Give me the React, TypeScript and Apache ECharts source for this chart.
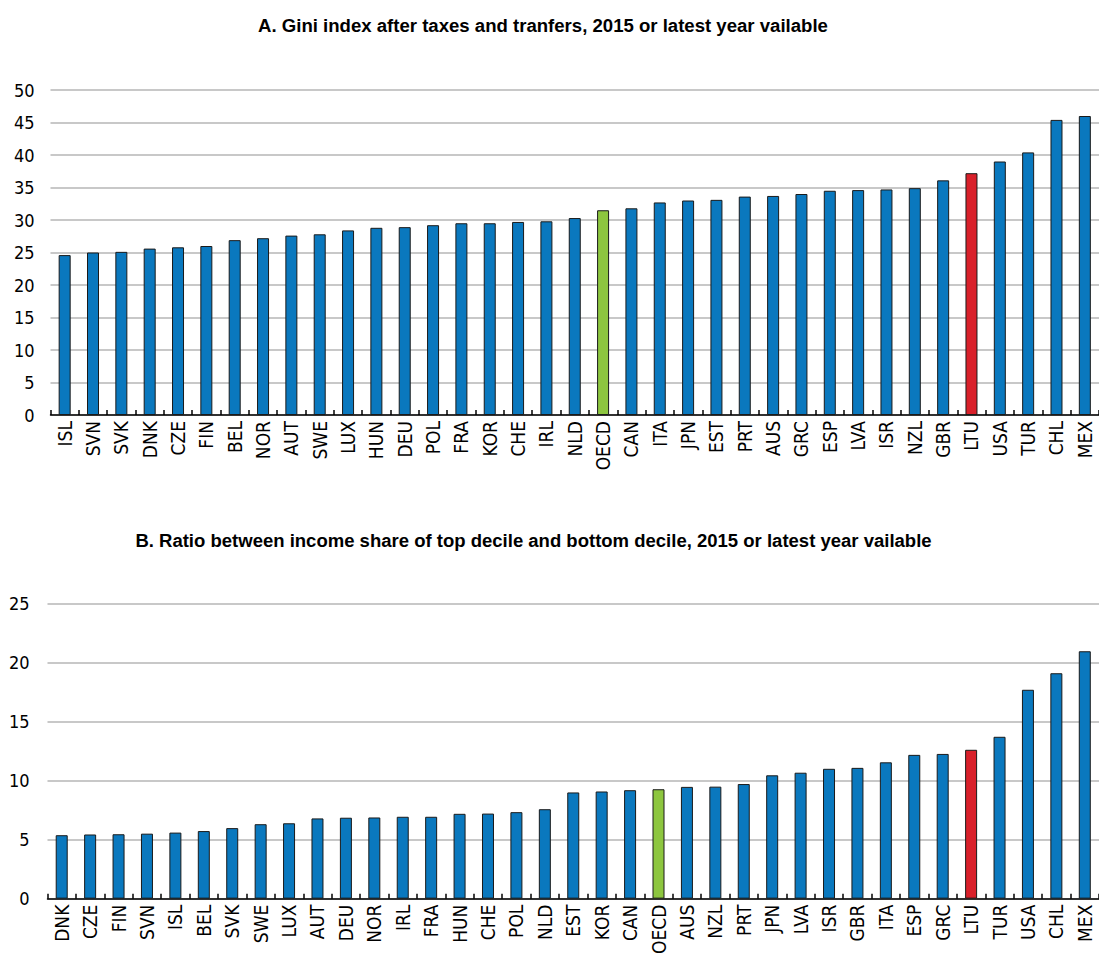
import React, { useEffect, useRef } from "react";
import * as echarts from "echarts";

const catsA = ["ISL","SVN","SVK","DNK","CZE","FIN","BEL","NOR","AUT","SWE","LUX","HUN","DEU","POL","FRA","KOR","CHE","IRL","NLD","OECD","CAN","ITA","JPN","EST","PRT","AUS","GRC","ESP","LVA","ISR","NZL","GBR","LTU","USA","TUR","CHL","MEX"];
const valsA = [24.6,25.0,25.1,25.6,25.8,26.0,26.9,27.2,27.6,27.8,28.4,28.8,28.9,29.2,29.5,29.5,29.7,29.8,30.3,31.5,31.8,32.7,33.0,33.1,33.6,33.7,34.0,34.5,34.6,34.7,34.9,36.1,37.2,39.0,40.4,45.4,46.0];

const catsB = ["DNK","CZE","FIN","SVN","ISL","BEL","SVK","SWE","LUX","AUT","DEU","NOR","IRL","FRA","HUN","CHE","POL","NLD","EST","KOR","CAN","OECD","AUS","NZL","PRT","JPN","LVA","ISR","GBR","ITA","ESP","GRC","LTU","TUR","USA","CHL","MEX"];
const valsB = [5.37,5.43,5.45,5.5,5.59,5.72,5.97,6.3,6.38,6.79,6.85,6.87,6.93,6.93,7.18,7.2,7.32,7.57,8.99,9.07,9.18,9.26,9.46,9.48,9.7,10.44,10.66,10.99,11.07,11.54,12.17,12.25,12.6,13.7,17.68,19.08,20.94];

const titleA = "A. Gini index after taxes and tranfers, 2015 or latest year vailable";
const titleB = "B. Ratio between income share of top decile and bottom decile, 2015 or latest year vailable";

const BLUE = "#0a78be";
const GREEN = "#8dc63f";
const RED = "#d9202a";
const FONT = "'DejaVu Sans Condensed', sans-serif";
const TITLE_FONT = "'Liberation Sans', Arial, sans-serif";

function colorFor(c: string) {
  if (c === "OECD") return GREEN;
  if (c === "LTU") return RED;
  return BLUE;
}

function measure(text: string, font: string) {
  const c = document.createElement("canvas");
  const ctx = c.getContext("2d");
  if (!ctx) return 1;
  ctx.font = font;
  return ctx.measureText(text).width || 1;
}

export default function App() {
  const ref = useRef<HTMLDivElement>(null);
  useEffect(() => {
    if (!ref.current) return;
    const chart = echarts.init(ref.current, undefined, { renderer: "svg" });
    const titleFontStr = `bold 19px ${TITLE_FONT}`;
    const sA = 570 / measure(titleA, titleFontStr);
    const sB = 797 / measure(titleB, titleFontStr);
    const xAxisCommon = {
      type: "category" as const,
      axisLine: { show: true, lineStyle: { color: "#000", width: 1.5 } },
      axisTick: { show: true, inside: true, length: 5, alignWithLabel: false, lineStyle: { color: "#000", width: 1.5 } },
      axisLabel: { rotate: 90, interval: 0, fontFamily: FONT, fontSize: 19, color: "#000", margin: 6 },
    };
    const yAxisCommon = {
      type: "value" as const,
      axisLine: { show: false },
      axisTick: { show: false },
      splitLine: { show: true, lineStyle: { color: "#c8c8c8", width: 2 } },
      axisLabel: { fontFamily: FONT, fontSize: 18, color: "#000" },
    };
    const mkData = (cats: string[], vals: number[]) =>
      vals.map((v, i) => ({ value: v, itemStyle: { color: colorFor(cats[i]) } }));
    chart.setOption({
      animation: false,
      backgroundColor: "#fff",
      graphic: [
        {
          type: "text", x: 543, y: 25, scaleX: sA,
          style: { text: titleA, font: titleFontStr, fill: "#000", textAlign: "center", textVerticalAlign: "middle" },
        },
        {
          type: "text", x: 533.5, y: 540, scaleX: sB,
          style: { text: titleB, font: titleFontStr, fill: "#000", textAlign: "center", textVerticalAlign: "middle" },
        },
      ],
      grid: [
        { left: 50.5, right: -6, top: 90, height: 325 },
        { left: 47.5, right: -3, top: 603.3, height: 304 },
      ],
      xAxis: [
        { ...xAxisCommon, gridIndex: 0, data: catsA },
        { ...xAxisCommon, gridIndex: 1, data: catsB },
      ],
      yAxis: [
        { ...yAxisCommon, gridIndex: 0, min: 0, max: 50, interval: 5, axisLabel: { ...yAxisCommon.axisLabel, margin: 16 } },
        { ...yAxisCommon, gridIndex: 1, min: 0, max: 25, interval: 5, axisLabel: { ...yAxisCommon.axisLabel, margin: 18 } },
      ],
      series: [
        {
          type: "bar", xAxisIndex: 0, yAxisIndex: 0, barWidth: 12,
          itemStyle: { borderColor: "#1a1a1a", borderWidth: 1 },
          data: mkData(catsA, valsA),
        },
        {
          type: "bar", xAxisIndex: 1, yAxisIndex: 1, barWidth: 12,
          itemStyle: { borderColor: "#1a1a1a", borderWidth: 1 },
          data: mkData(catsB, valsB),
        },
      ],
    });
    return () => chart.dispose();
  }, []);
  return <div ref={ref} style={{ position: "absolute", left: 0, top: 0, width: 1099, height: 957 }} />;
}
